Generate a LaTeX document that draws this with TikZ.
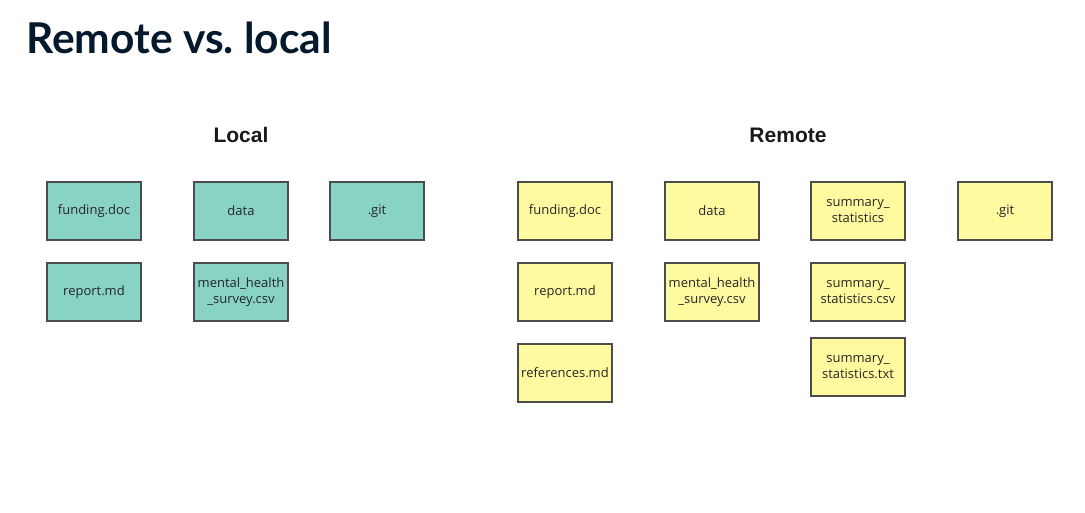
\documentclass[tikz,border=0pt]{standalone}
\usepackage{fontspec}
\setmainfont{Open Sans}
\newfontfamily\titlefont{Lato}
\newfontfamily\headfont{Liberation Sans}
\usetikzlibrary{positioning}
\definecolor{navy}{HTML}{05192D}
\definecolor{teal}{HTML}{88D3C4}
\definecolor{paleyellow}{HTML}{FFFAA0}
\tikzstyle{file}=[rectangle,draw=black!70,line width=1.4pt,minimum width=94pt,minimum height=58pt,inner sep=1pt,align=center,font=\fontsize{13}{16}\selectfont,text=black!85]
\tikzstyle{localfile}=[file,fill=teal]
\tikzstyle{remotefile}=[file,fill=paleyellow]
\tikzstyle{heading}=[font=\headfont\bfseries\fontsize{21}{24}\selectfont,text=black!90]

\begin{document}
\begin{tikzpicture}[x=1pt,y=1pt]
    \useasboundingbox (0,0) rectangle (1085,-512);

    \node[anchor=base west,inner sep=0pt,text=navy,font=\titlefont\bfseries\fontsize{42.5}{46}\selectfont] (title) at (26,-53) {Remote vs.\ local};

    \node[heading] (local) at (241,-135) {Local};
    \node[heading] (remote) at (788,-135) {Remote};

    \foreach \pos/\name/\label in {{(94,-211)/lfunding/funding.doc}, {(241,-211)/ldata/data}, {(377,-211)/lgit/.git}, {(94,-292)/lreport/report.md}, {(241,-292)/lsurvey/{mental\_health\\\_survey.csv}}}
        \node[localfile] (\name) at \pos {\label};

    \foreach \pos/\name/\label in {{(565,-211)/rfunding/funding.doc}, {(712,-211)/rdata/data}, {(858,-211)/rsummary/{summary\_\\statistics}}, {(1005,-211)/rgit/.git}, {(565,-292)/rreport/report.md}, {(712,-292)/rsurvey/{mental\_health\\\_survey.csv}}, {(858,-292)/rcsv/{summary\_\\statistics.csv}}, {(565,-373)/rrefs/references.md}, {(858,-367)/rtxt/{summary\_\\statistics.txt}}}
        \node[remotefile] (\name) at \pos {\label};

\end{tikzpicture}
\end{document}
